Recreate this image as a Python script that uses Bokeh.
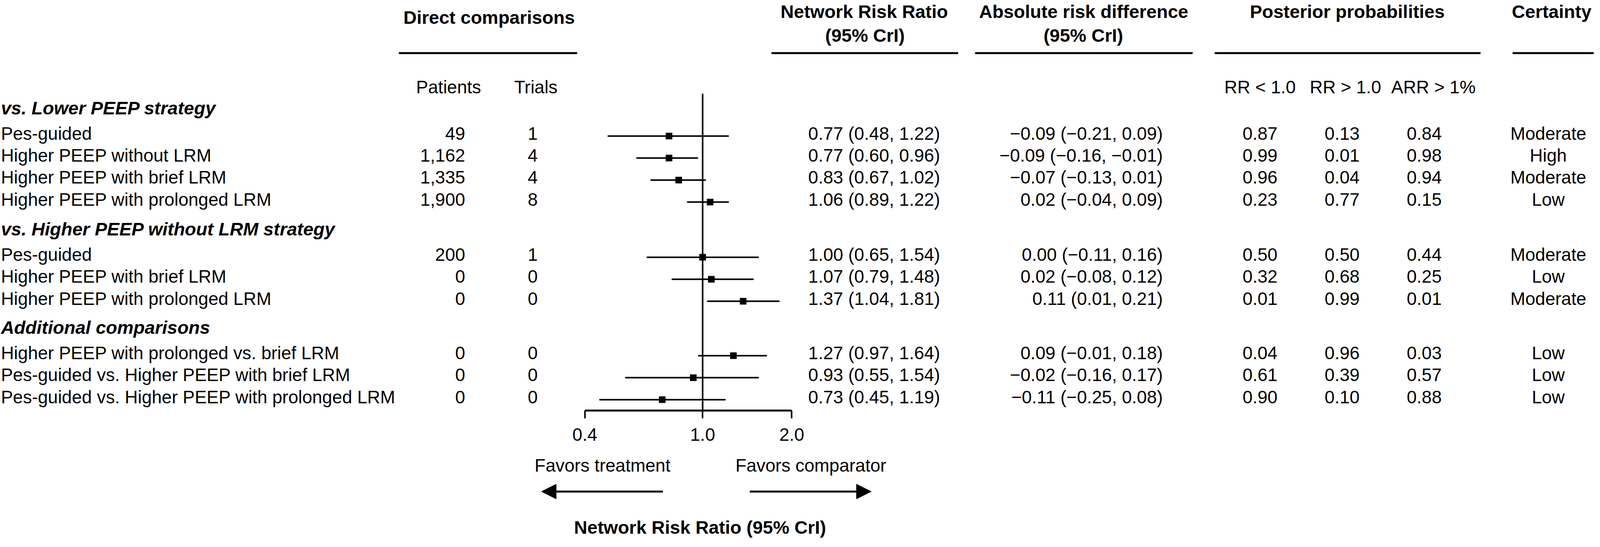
import math
from bokeh.plotting import figure
from bokeh.models import (Range1d, LogScale, LogAxis, FixedTicker, PrintfTickFormatter,
                          ColumnDataSource, Arrow, NormalHead)
from bokeh.core.properties import value
from bokeh.embed import file_html
from bokeh.resources import INLINE

# ---------------- data ----------------
groups = ["vs. Lower PEEP strategy", "vs. Higher PEEP without LRM strategy", "Additional comparisons"]
group_sizes = [4, 3, 3]
comparisons = [
    "Pes-guided", "Higher PEEP without LRM", "Higher PEEP with brief LRM", "Higher PEEP with prolonged LRM",
    "Pes-guided", "Higher PEEP with brief LRM", "Higher PEEP with prolonged LRM",
    "Higher PEEP with prolonged vs. brief LRM", "Pes-guided vs. Higher PEEP with brief LRM",
    "Pes-guided vs. Higher PEEP with prolonged LRM",
]
patients = [49, 1162, 1335, 1900, 200, 0, 0, 0, 0, 0]
trials = [1, 4, 4, 8, 1, 0, 0, 0, 0, 0]
rr = [0.77, 0.77, 0.83, 1.06, 1.00, 1.07, 1.37, 1.27, 0.93, 0.73]
rr_lo = [0.48, 0.60, 0.67, 0.89, 0.65, 0.79, 1.04, 0.97, 0.55, 0.45]
rr_hi = [1.22, 0.96, 1.02, 1.22, 1.54, 1.48, 1.81, 1.64, 1.54, 1.19]
ard = [-0.09, -0.09, -0.07, 0.02, 0.00, 0.02, 0.11, 0.09, -0.02, -0.11]
ard_lo = [-0.21, -0.16, -0.13, -0.04, -0.11, -0.08, 0.01, -0.01, -0.16, -0.25]
ard_hi = [0.09, -0.01, 0.01, 0.09, 0.16, 0.12, 0.21, 0.18, 0.17, 0.08]
p_rr_lt1 = [0.87, 0.99, 0.96, 0.23, 0.50, 0.32, 0.01, 0.04, 0.61, 0.90]
p_rr_gt1 = [0.13, 0.01, 0.04, 0.77, 0.50, 0.68, 0.99, 0.96, 0.39, 0.10]
p_arr = [0.84, 0.98, 0.94, 0.15, 0.44, 0.25, 0.01, 0.03, 0.57, 0.88]
certainty = ["Moderate", "High", "Moderate", "Low", "Moderate", "Low", "Moderate", "Low", "Low", "Low"]
rr_ticks = [0.4, 1.0, 2.0]
prob_headers = ["RR < 1.0", "RR > 1.0", "ARR > 1%"]

# ---------------- layout ----------------
FONT = value("Liberation Sans")
FS = "46px"
FSB = "47px"
W, H = 4080, 1385
REF_W, REF_H = 4329, 1401

p = figure(width=W, height=H, x_range=Range1d(0, REF_W), y_range=Range1d(REF_H, 0),
           output_backend="svg", toolbar_location=None, x_axis_location=None,
           y_axis_location=None, min_border=0, outline_line_color=None)
p.grid.visible = False

# log scale for the risk ratios (1.0 at x=1908, 349.2 units per ln-unit)
PX1, K = 1908, 349.2
p.extra_x_ranges = {"rr": Range1d(math.exp((0 - PX1) / K), math.exp((REF_W - PX1) / K))}
p.extra_x_scales = {"rr": LogScale()}

HDR_Y = [279, 593, 848]
row_y = []
for g, n in enumerate(group_sizes):
    for i in range(n):
        row_y.append(HDR_Y[g] + 66 + 57 * i)
forest_y = [y + 7 for y in row_y]
AXIS_Y = 1063


def fmt(v):
    return f"{v:.2f}".replace("-", "\u2212")


def txt(x, y, t, align="left", style="normal", size=FS):
    src = ColumnDataSource(dict(x=x, y=y, t=t))
    p.text(x="x", y="y", text="t", source=src, text_font=FONT, text_font_size=size,
           text_align=align, text_baseline="middle", text_font_style=style, text_color="black")


# column headers
txt([1328], [45], ["Direct comparisons"], "center", "bold", FSB)
txt([2347, 2349], [29, 91], ["Network Risk Ratio", "(95% CrI)"], "center", "bold", FSB)
txt([2943, 2942], [29, 91], ["Absolute risk difference", "(95% CrI)"], "center", "bold", FSB)
txt([3659], [29], ["Posterior probabilities"], "center", "bold", FSB)
txt([4106], [29], ["Certainty"], "left", "bold", FSB)
p.segment(x0=[1083, 2095, 2648, 3299, 4108], x1=[1567, 2602, 3239, 4021, 4329],
          y0=[137] * 5, y1=[137] * 5, line_width=5, line_color="black")

# sub headers
txt([1218, 1455], [225, 225], ["Patients", "Trials"], "center")
txt([3422, 3654, 3893], [225] * 3, prob_headers, "center")

# group headers
txt([2] * 3, HDR_Y, groups, "left", "bold italic", FSB)

# rows
txt([2] * len(row_y), row_y, comparisons, "left")
txt([1263] * len(row_y), row_y, [f"{v:,}" for v in patients], "right")
txt([1460] * len(row_y), row_y, [str(v) for v in trials], "right")
txt([2553] * len(row_y), row_y,
    [f"{a:.2f} ({b:.2f}, {c:.2f})" for a, b, c in zip(rr, rr_lo, rr_hi)], "right")
txt([3158] * len(row_y), row_y,
    [f"{fmt(a)} ({fmt(b)}, {fmt(c)})" for a, b, c in zip(ard, ard_lo, ard_hi)], "right")
txt([3422] * len(row_y), row_y, [f"{v:.2f}" for v in p_rr_lt1], "center")
txt([3645] * len(row_y), row_y, [f"{v:.2f}" for v in p_rr_gt1], "center")
txt([3868] * len(row_y), row_y, [f"{v:.2f}" for v in p_arr], "center")
txt([4205] * len(row_y), row_y, certainty, "center")

# forest plot
p.segment(x0=[1.0], x1=[1.0], y0=[242], y1=[AXIS_Y], x_range_name="rr",
          line_width=4, line_color="black")
fsrc = ColumnDataSource(dict(est=rr, lo=rr_lo, hi=rr_hi, y=forest_y))
p.segment(x0="lo", x1="hi", y0="y", y1="y", source=fsrc, x_range_name="rr",
          line_width=4, line_color="black", line_cap="round")
p.scatter(x="est", y="y", source=fsrc, x_range_name="rr", marker="square", size=16,
          fill_color="black", line_color="black")

ax = LogAxis(x_range_name="rr", fixed_location=AXIS_Y, bounds=(0.4, 2.0),
             ticker=FixedTicker(ticks=rr_ticks, minor_ticks=[]),
             formatter=PrintfTickFormatter(format="%.1f"),
             axis_line_width=5, axis_line_color="black",
             major_tick_line_width=4, major_tick_line_color="black",
             major_tick_in=0, major_tick_out=20, minor_tick_in=0, minor_tick_out=0,
             major_label_text_font="Liberation Sans", major_label_text_font_size=FS,
             major_label_text_color="black", major_label_standoff=26)
p.add_layout(ax, "below")

txt([1636, 2202], [1205, 1205], ["Favors treatment", "Favors comparator"], "center")
p.add_layout(Arrow(end=NormalHead(size=38, fill_color="black", line_color="black"),
                   x_start=1800, y_start=1273, x_end=1470, y_end=1273,
                   line_width=5, line_color="black"))
p.add_layout(Arrow(end=NormalHead(size=38, fill_color="black", line_color="black"),
                   x_start=2036, y_start=1273, x_end=2366, y_end=1273,
                   line_width=5, line_color="black"))
txt([1901], [1366], ["Network Risk Ratio (95% CrI)"], "center", "bold", FSB)

open("out.html", "w").write(file_html(p, INLINE))
